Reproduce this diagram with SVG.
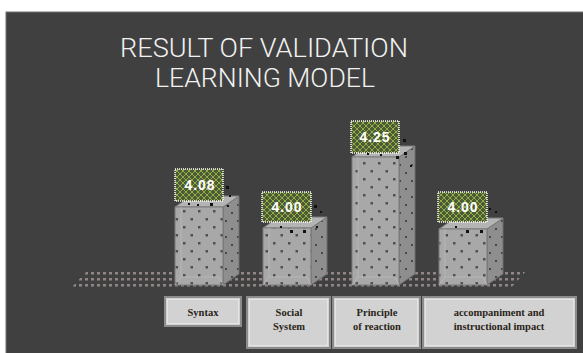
<svg xmlns="http://www.w3.org/2000/svg" width="583" height="353" viewBox="0 0 583 353">
<style>
.title{font-family:Roboto,"Liberation Sans",Arial,sans-serif;font-weight:300;font-size:25px;fill:#f2f2f2;text-anchor:middle}
.val{font-family:"Liberation Sans",Arial,sans-serif;font-size:14px;font-weight:bold;fill:#ffffff;text-anchor:middle;letter-spacing:1px}
.cat{font-family:"Liberation Serif","Times New Roman",serif;font-size:10.5px;font-weight:bold;fill:#2a2418;text-anchor:middle}
.front{fill:url(#frontPat);stroke:#7a7a7a;stroke-width:1}
.side{fill:url(#sidePat);stroke:#6e6e6e;stroke-width:1}
.top{fill:#b4b4b4;stroke:#7a7a7a;stroke-width:1}
.bevel{fill:none;stroke:#bdbdbd;stroke-width:1;opacity:0.7}
.vbox{fill:url(#valPat);stroke:#ffffff;stroke-width:1.5;stroke-dasharray:1 1}
.cbox{fill:#d2d2d2;stroke:#8c8c8c;stroke-width:2}
.cin{fill:none;stroke:#e4e4e4;stroke-width:1}
.noise{fill:#111111}
</style>
<defs>
<pattern id="floorPat" patternUnits="userSpaceOnUse" x="0" y="270" width="6" height="6">
<rect x="1" y="2" width="3" height="2.5" fill="#918686"/>
</pattern>
<pattern id="frontPat" patternUnits="userSpaceOnUse" x="0" y="0" width="15" height="16">
<rect width="15" height="16" fill="#a8a8a8"/>
<rect x="3" y="2" width="2.5" height="2.5" fill="#505050"/>
<rect x="10.5" y="10" width="2.5" height="2.5" fill="#505050"/>
</pattern>
<pattern id="sidePat" patternUnits="userSpaceOnUse" x="0" y="0" width="12" height="16">
<rect width="12" height="16" fill="#8e8e8e"/>
<rect x="3" y="4" width="2" height="2" fill="#4a4a4a"/>
<rect x="9" y="12" width="2" height="2" fill="#4a4a4a"/>
</pattern>
<pattern id="valPat" patternUnits="userSpaceOnUse" x="0" y="0" width="6" height="6">
<rect width="6" height="6" fill="#4e5a33"/>
<path d="M0 0L6 6M6 0L0 6" stroke="#8fae4c" stroke-width="1"/>
</pattern>
</defs>
<rect width="583" height="353" fill="#ffffff"/>
<rect x="6" y="12" width="578" height="342" fill="#404040" stroke="#707070" stroke-width="1"/>
<g id="title">
<text class="title" x="264" y="57" textLength="288" lengthAdjust="spacingAndGlyphs">RESULT OF VALIDATION</text>
<text class="title" x="265" y="87" textLength="220" lengthAdjust="spacingAndGlyphs">LEARNING MODEL</text>
</g>
<g id="floor">
<polygon points="88,270 527,270 510,289 70,289" fill="url(#floorPat)"/>
</g>
<g id="bar-syntax">
<polygon class="side" points="223,285 223,207 239,196 239,274"/>
<polygon class="top" points="175,207 191,196 239,196 223,207"/>
<rect class="front" x="175" y="207" width="48" height="78"/>
<path class="bevel" d="M181 207V277H219M175 285L181 277M223 285L219 277"/>
<rect class="vbox" x="175" y="169" width="48" height="32"/>
<text class="val" x="200" y="190">4.08</text>
<rect class="noise" x="226" y="186" width="3" height="3"/>
<rect class="noise" x="229" y="195" width="2" height="2"/>
<rect class="noise" x="210" y="203" width="3" height="3"/>
<rect class="noise" x="197" y="204" width="2" height="2"/>
<rect class="noise" x="188" y="203" width="2" height="2"/>
<rect class="noise" x="227" y="205" width="2" height="2"/>
</g>
<g id="bar-social">
<polygon class="side" points="311,285 311,228 327,217 327,274"/>
<polygon class="top" points="263,228 279,217 327,217 311,228"/>
<rect class="front" x="263" y="228" width="48" height="57"/>
<path class="bevel" d="M269 228V277H307M263 285L269 277M311 285L307 277"/>
<rect class="vbox" x="262" y="192" width="49" height="30"/>
<text class="val" x="287" y="212">4.00</text>
<rect class="noise" x="314" y="205" width="3" height="3"/>
<rect class="noise" x="320" y="211" width="2" height="2"/>
<rect class="noise" x="290" y="230" width="3" height="3"/>
<rect class="noise" x="303" y="230" width="3" height="3"/>
<rect class="noise" x="280" y="226" width="2" height="2"/>
<rect class="noise" x="316" y="226" width="2" height="2"/>
</g>
<g id="bar-principle">
<polygon class="side" points="399,285 399,157 415,146 415,274"/>
<polygon class="top" points="352,157 368,146 415,146 399,157"/>
<rect class="front" x="352" y="157" width="47" height="128"/>
<path class="bevel" d="M358 157V277H395M352 285L358 277M399 285L395 277"/>
<rect class="vbox" x="351" y="121" width="48" height="32"/>
<text class="val" x="375" y="142">4.25</text>
<rect class="noise" x="403" y="139" width="3" height="3"/>
<rect class="noise" x="404" y="152" width="3" height="3"/>
<rect class="noise" x="367" y="153" width="2" height="2"/>
<rect class="noise" x="380" y="154" width="2" height="2"/>
<rect class="noise" x="396" y="156" width="3" height="3"/>
<rect class="noise" x="410" y="165" width="2" height="2"/>
</g>
<g id="bar-accompaniment">
<polygon class="side" points="487,285 487,229 503,218 503,274"/>
<polygon class="top" points="439,229 455,218 503,218 487,229"/>
<rect class="front" x="439" y="229" width="48" height="56"/>
<path class="bevel" d="M445 229V277H483M439 285L445 277M487 285L483 277"/>
<rect class="vbox" x="438" y="192" width="49" height="30"/>
<text class="val" x="463" y="212">4.00</text>
<rect class="noise" x="489" y="208" width="2" height="2"/>
<rect class="noise" x="495" y="211" width="2" height="2"/>
<rect class="noise" x="466" y="230" width="3" height="3"/>
<rect class="noise" x="480" y="230" width="3" height="3"/>
<rect class="noise" x="455" y="226" width="2" height="2"/>
</g>
<g id="label-syntax">
<rect class="cbox" x="165" y="297" width="76" height="29"/>
<rect class="cin" x="167.5" y="299.5" width="71" height="24"/>
<text class="cat" x="203" y="316">Syntax</text>
</g>
<g id="label-social">
<rect class="cbox" x="247" y="297" width="83" height="51"/>
<rect class="cin" x="249.5" y="299.5" width="78" height="46"/>
<text class="cat" x="289" y="316">Social</text>
<text class="cat" x="289" y="330">System</text>
</g>
<g id="label-principle">
<rect class="cbox" x="333" y="297" width="87" height="51"/>
<rect class="cin" x="335.5" y="299.5" width="82" height="46"/>
<text class="cat" x="377" y="316">Principle</text>
<text class="cat" x="377" y="330">of reaction</text>
</g>
<g id="label-accompaniment">
<rect class="cbox" x="423" y="297" width="153" height="51"/>
<rect class="cin" x="425.5" y="299.5" width="148" height="46"/>
<text class="cat" x="499" y="316">accompaniment and</text>
<text class="cat" x="499" y="330">instructional impact</text>
</g>
<g id="connectors"></g>
</svg>
